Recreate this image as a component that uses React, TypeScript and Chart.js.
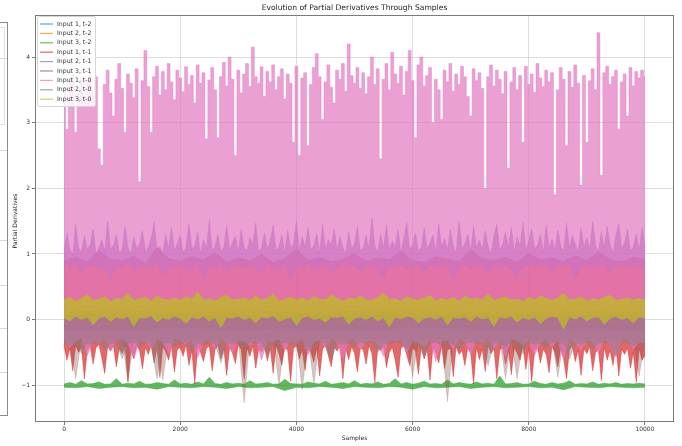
import { useEffect, useRef } from "react";
import { Chart, registerables } from "chart.js";

Chart.register(...registerables);

const FONT = '"DejaVu Sans", "Liberation Sans", sans-serif';
const SAMPLE_COUNT = 10000;

const xTicks = [0, 2000, 4000, 6000, 8000, 10000];
const yTicks = [-1, 0, 1, 2, 3, 4];

const seriesLabels = [
  "Input 1, t-2",
  "Input 2, t-2",
  "Input 3, t-2",
  "Input 1, t-1",
  "Input 2, t-1",
  "Input 3, t-1",
  "Input 1, t-0",
  "Input 2, t-0",
  "Input 3, t-0",
];

const seriesColors = [
  "#1f77b4",
  "#ff7f0e",
  "#2ca02c",
  "#d62728",
  "#9467bd",
  "#8c564b",
  "#e377c2",
  "#7f7f7f",
  "#bcbd22",
];

// opacity of each trace's band
const seriesAlpha = [0.7, 0.7, 0.75, 0.7, 0.7, 0.35, 0.7, 0.45, 0.75];

// Upper / lower envelopes of each derivative trace, sampled evenly across 0..10000.
const in1t2High = [0.12, 0.15, 0.1, 0.14, 0.11, 0.13, 0.16, 0.1, 0.12, 0.14, 0.11];
const in1t2Low = [-0.14, -0.16, -0.12, -0.15, -0.13, -0.17, -0.12, -0.14, -0.16, -0.13, -0.15];

const in2t2High = [0.22, 0.2, 0.24, 0.19, 0.23, 0.21, 0.25, 0.2, 0.22, 0.24, 0.21];
const in2t2Low = [-0.08, -0.1, -0.07, -0.11, -0.09, -0.06, -0.1, -0.08, -0.12, -0.07, -0.09];

const in3t2High = [
  -0.98, -0.96, -0.985, -0.93, -0.98, -0.975, -0.95, -0.985, -0.98, -0.9,
  -0.985, -0.97, -0.98, -0.94, -0.985, -0.98, -0.96, -0.975, -0.985, -0.92,
  -0.98, -0.97, -0.985, -0.95, -0.98, -0.88, -0.975, -0.985, -0.96, -0.98,
  -0.97, -0.985, -0.93, -0.98, -0.975, -0.96, -0.985, -0.98, -0.91, -0.975,
  -0.98, -0.985, -0.95, -0.97, -0.98, -0.94, -0.985, -0.975, -0.96, -0.98,
  -0.93, -0.985, -0.97, -0.98, -0.95, -0.985, -0.975, -0.9, -0.98, -0.96,
  -0.985, -0.97, -0.94, -0.98, -0.975, -0.985, -0.92, -0.98, -0.96, -0.975,
  -0.985, -0.95, -0.98, -0.97, -0.985, -0.86, -0.98, -0.975, -0.96, -0.985,
  -0.98, -0.94, -0.975, -0.985, -0.96, -0.98, -0.97, -0.93, -0.985, -0.975,
  -0.98, -0.95, -0.985, -0.97, -0.98, -0.96, -0.985, -0.975, -0.98, -0.97,
  -0.98,
];
const in3t2Low = [
  -1.03, -1.04, -1.02, -1.05, -1.03, -1.02, -1.04, -1.03, -1.06, -1.02,
  -1.03, -1.04, -1.02, -1.03, -1.05, -1.02, -1.04, -1.03, -1.02, -1.08,
  -1.03, -1.04, -1.02, -1.03, -1.05, -1.02, -1.03, -1.04, -1.02, -1.03,
  -1.06, -1.02, -1.04, -1.03, -1.02, -1.05, -1.03, -1.02, -1.04, -1.03,
  -1.02, -1.04, -1.03, -1.07, -1.02, -1.03, -1.04, -1.02, -1.03, -1.04,
  -1.03,
];

const in1t1High = [
  0.9, 0.95, 0.88, 1.05, 0.92, 0.9, 0.97, 0.86, 1.1, 0.93,
  0.89, 0.96, 0.91, 1.02, 0.88, 0.94, 0.9, 0.99, 0.87, 0.93,
  1.08, 0.9, 0.95, 0.88, 0.92, 1.0, 0.89, 0.94, 0.91, 1.04,
  0.9, 0.87, 0.96, 0.92, 0.89, 1.06, 0.93, 0.9, 0.95, 0.88,
  1.01, 0.91, 0.94, 0.89, 0.97, 0.9, 1.03, 0.92, 0.88, 0.95,
  0.91,
];
const in1t1Low = [
  -0.4, -0.62, -0.44, -0.78, -0.39, -0.5, -0.42, -0.9, -0.47, -0.4,
  -0.68, -0.43, -0.38, -0.58, -0.82, -0.41, -0.48, -0.4, -0.72, -0.44,
  -0.52, -0.39, -0.95, -0.43, -0.6, -0.4, -0.47, -0.75, -0.42, -0.53,
  -0.39, -0.66, -0.44, -0.88, -0.41, -0.49, -0.62, -0.4, -0.8, -0.45,
  -0.43, -0.56, -0.38, -0.7, -0.47, -0.98, -0.41, -0.5, -0.64, -0.44,
  -0.4, -0.78, -0.46, -0.39, -0.6, -0.44, -0.85, -0.42, -0.51, -0.67,
  -0.38, -0.46, -0.9, -0.43, -0.56, -0.4, -0.74, -0.45, -0.5, -0.41,
  -0.63, -0.44, -0.82, -0.39, -0.52, -0.69, -0.42, -0.47, -0.94, -0.44,
  -0.4, -0.6, -0.46, -0.77, -0.41, -0.5, -0.65, -0.43, -0.86, -0.45,
  -0.39, -0.55, -0.72, -0.42, -0.48, -0.4, -0.9, -0.44, -0.61, -0.41,
  -0.51, -0.8, -0.43, -0.46, -0.68, -0.39, -0.52, -0.96, -0.44, -0.47,
  -0.41, -0.73, -0.5, -0.42, -0.62, -0.88, -0.44, -0.4, -0.54, -0.7,
  -0.43, -0.48, -0.83, -0.41, -0.6, -0.45, -0.92, -0.42, -0.51, -0.66,
  -0.39, -0.75, -0.46, -0.44, -0.87, -0.41, -0.53, -0.47, -0.7, -0.43,
  -0.5, -0.98, -0.42, -0.61, -0.45, -0.79, -0.4, -0.52, -0.44, -0.9,
  -0.47, -0.41, -0.68, -0.46, -0.84, -0.43, -0.51, -0.62, -0.4, -0.76,
  -0.44, -0.95, -0.48, -0.42, -0.66, -0.45, -0.53, -0.81, -0.41, -0.5,
  -0.72, -0.43, -0.6, -0.9, -0.46, -0.4, -0.64, -0.47, -0.85, -0.44,
  -0.52, -0.41, -0.78, -0.5, -0.44, -0.93, -0.42, -0.62, -0.47, -0.7,
  -0.4, -0.86, -0.45, -0.53, -0.43, -0.74, -0.5, -0.96, -0.44, -0.62,
  -0.55,
];

const in2t1High = [
  1.05, 1.32, 1.08, 0.98, 1.45, 1.1, 1.02, 1.28, 1.06, 1.14,
  1.38, 1.0, 1.1, 1.22, 1.04, 1.5, 1.08, 1.12, 1.3, 1.02,
  1.06, 1.42, 1.1, 1.0, 1.26, 1.08, 1.15, 1.35, 1.04, 1.1,
  1.24, 1.48, 1.06, 1.12, 1.0, 1.3, 1.09, 1.4, 1.05, 1.16,
  1.28, 1.02, 1.1, 1.46, 1.07, 1.13, 1.33, 1.0, 1.22, 1.08,
  1.52, 1.05, 1.12, 1.3, 1.04, 1.1, 1.43, 1.06, 1.18, 1.27,
  1.02, 1.38, 1.1, 1.05, 1.25, 1.14, 1.47, 1.03, 1.1, 1.32,
  1.07, 1.2, 1.44, 1.05, 1.12, 1.29, 1.0, 1.36, 1.09, 1.15,
  1.5, 1.04, 1.26, 1.1, 1.4, 1.06, 1.13, 1.31, 1.02, 1.45,
  1.08, 1.22, 1.12, 1.38, 1.05, 1.27, 1.1, 1.0, 1.34, 1.08,
  1.16, 1.42, 1.04, 1.1, 1.28, 1.07, 1.55, 1.12, 1.03, 1.3,
  1.09, 1.44, 1.06, 1.2, 1.11, 1.36, 1.02, 1.25, 1.48, 1.08,
  1.13, 1.32, 1.05, 1.1, 1.4, 1.07, 1.18, 1.29, 1.03, 1.46,
  1.1, 1.24, 1.06, 1.37, 1.12, 1.02, 1.5, 1.08, 1.15, 1.3,
  1.04, 1.43, 1.1, 1.21, 1.07, 1.35, 1.12, 1.0, 1.27, 1.45,
  1.06, 1.14, 1.33, 1.09, 1.41, 1.03, 1.26, 1.11, 1.48, 1.05,
  1.2, 1.38, 1.08, 1.13, 1.3, 1.02, 1.44, 1.1, 1.23, 1.06,
  1.36, 1.12, 1.04, 1.47, 1.09, 1.28, 1.15, 1.03, 1.4, 1.1,
  1.25, 1.07, 1.5, 1.12, 1.05, 1.33, 1.09, 1.42, 1.14, 1.02,
  1.29, 1.46, 1.08, 1.18, 1.37, 1.05, 1.11, 1.31, 1.06, 1.4,
  1.1,
];
const in2t1Low = [
  0.82, 0.78, 0.85, 0.7, 0.8, 0.84, 0.76, 0.81, 0.6, 0.83,
  0.79, 0.86, 0.74, 0.8, 0.82, 0.77, 0.85, 0.68, 0.81, 0.79,
  0.84, 0.75, 0.8, 0.83, 0.62, 0.82, 0.78, 0.86, 0.73, 0.8,
  0.81, 0.77, 0.84, 0.79, 0.7, 0.83, 0.8, 0.76, 0.85, 0.58,
  0.82, 0.79, 0.84, 0.75, 0.81, 0.83, 0.69, 0.8, 0.86, 0.78,
  0.82, 0.74, 0.8, 0.84, 0.77, 0.64, 0.83, 0.79, 0.85, 0.76,
  0.81, 0.8, 0.72, 0.84, 0.78, 0.82, 0.86, 0.6, 0.8, 0.83,
  0.77, 0.85, 0.79, 0.73, 0.82, 0.8, 0.84, 0.76, 0.66, 0.81,
  0.83, 0.78, 0.85, 0.8, 0.74, 0.82, 0.79, 0.84, 0.62, 0.8,
  0.83, 0.77, 0.81, 0.85, 0.71, 0.8, 0.82, 0.78, 0.84, 0.79,
  0.81,
];

const in3t1High = [
  0.0, -0.02, 0.03, 0.01, -0.01, 0.02, 0.0, 0.03, -0.02, 0.01, 0.02,
  0.0, -0.01, 0.03, 0.01, 0.0, 0.02, -0.02, 0.01, 0.03, 0.0,
];
const in3t1Low = [
  -0.3, -0.32, -0.9, -0.29, -0.31, -0.3, -0.33, -0.28, -0.3, -0.31,
  -0.29, -0.95, -0.3, -0.32, -0.28, -0.31, -0.3, -0.92, -0.29, -0.31,
  -0.3, -0.33, -0.28, -0.3, -0.31, -0.29, -0.32, -0.3, -0.28, -0.31,
  -0.3, -1.27, -0.29, -0.31, -0.3, -0.32, -0.28, -1.0, -0.3, -0.31,
  -0.29, -1.07, -0.3, -0.98, -0.31, -0.28, -0.3, -0.32, -0.29, -0.31,
  -0.3, -0.28, -0.31, -0.3, -0.33, -0.29, -0.3, -0.31, -0.28, -0.3,
  -0.88, -0.31, -0.29, -0.3, -0.32, -0.28, -1.25, -0.3, -0.31, -0.29,
  -0.3, -0.32, -0.28, -0.31, -0.3, -0.29, -0.9, -0.31, -0.9, -0.3,
  -0.28, -0.31, -0.3, -0.32, -0.29, -0.88, -0.3, -0.31, -0.28, -0.3,
  -0.32, -0.29, -0.31, -0.3, -0.28, -0.31, -0.3, -0.29, -0.32, -0.86,
  -0.3,
];

const in1t0High = [
  3.55, 2.9, 3.6, 3.72, 2.85, 3.5, 3.68, 3.4, 3.62, 3.75,
  3.48, 3.7, 2.6, 2.35, 3.58, 3.8, 3.45, 3.1, 3.66, 3.9,
  3.52, 2.85, 3.74, 3.6, 3.38, 3.82, 2.1, 3.64, 4.1, 3.55,
  2.85, 3.7, 3.86, 3.42, 3.78, 3.5, 3.9, 3.62, 3.35, 3.8,
  3.68, 3.47, 3.85, 3.58, 3.72, 3.3, 3.88, 3.6, 3.76, 2.75,
  3.65, 3.84, 3.5, 2.77, 3.7, 3.92, 3.56, 4.0, 3.66, 2.5,
  3.8, 3.45, 3.74, 3.9, 3.55, 4.15, 3.7, 3.6, 3.85, 3.4,
  3.78, 3.62, 3.88, 3.5, 3.7, 3.82, 3.36, 3.74, 3.6, 2.7,
  3.86, 2.5, 3.68, 3.76, 2.65, 3.58, 3.84, 4.05, 3.7, 3.05,
  3.62, 3.88, 3.54, 3.3, 3.8, 3.66, 3.9, 3.48, 4.2, 3.72,
  3.6, 3.84, 3.52, 3.76, 3.44, 3.7, 4.0, 3.58, 3.82, 2.45,
  3.66, 3.9, 3.5, 4.07, 3.74, 3.6, 3.86, 3.42, 3.78, 4.1,
  3.64, 2.77, 3.88, 4.0, 3.56, 3.72, 3.84, 3.0, 3.66, 3.5,
  3.05, 3.8, 3.62, 3.9, 3.48, 3.74, 3.58, 3.86, 3.7, 3.4,
  3.1, 3.82, 3.64, 3.76, 3.52, 2.0, 3.7, 3.88, 3.56, 3.8,
  3.66, 3.44, 3.78, 2.3, 3.62, 3.84, 3.5, 3.72, 2.7, 3.86,
  3.58, 3.74, 3.46, 3.9, 3.68, 3.55, 3.8, 3.62, 3.76, 1.9,
  3.5, 3.84, 3.66, 2.65, 3.78, 3.54, 3.88, 3.6, 2.05, 3.72,
  2.7, 3.64, 3.82, 3.5, 4.37, 2.2, 3.76, 3.86, 3.58, 3.7,
  3.8, 2.9, 3.62, 3.74, 3.1, 3.84, 3.56, 3.78, 3.68, 3.8,
  3.7,
];
const in1t0Low = [
  -0.3, -0.42, -0.33, -0.28, -0.55, -0.31, -0.35, -0.3, -0.48, -0.32,
  -0.29, -0.36, -0.6, -0.31, -0.33, -0.44, -0.3, -0.34, -0.52, -0.29,
  -0.32, -0.38, -0.3, -0.58, -0.33, -0.31, -0.45, -0.29, -0.35, -0.5,
  -0.31, -0.33, -0.4, -0.3, -0.62, -0.32, -0.34, -0.29, -0.47, -0.31,
  -0.36, -0.3, -0.54, -0.33, -0.31, -0.43, -0.29, -0.35, -0.6, -0.32,
  -0.3, -0.46, -0.33, -0.31, -0.37, -0.56, -0.3, -0.34, -0.29, -0.5,
  -0.32, -0.35, -0.41, -0.3, -0.64, -0.33, -0.31, -0.46, -0.29, -0.34,
  -0.53, -0.31, -0.36, -0.3, -0.44, -0.33, -0.58, -0.29, -0.32, -0.39,
  -0.31, -0.55, -0.34, -0.3, -0.42, -0.32, -0.6, -0.29, -0.35, -0.47,
  -0.31, -0.33, -0.52, -0.3, -0.38, -0.57, -0.32, -0.29, -0.45, -0.34,
  -0.36,
];

const in2t0High = [
  0.05, 0.08, 0.04, 0.06, 0.09, 0.05, 0.07, 0.04, 0.08, 0.06, 0.05,
  0.09, 0.04, 0.07, 0.06, 0.05, 0.08, 0.04, 0.06, 0.07, 0.05,
];
const in2t0Low = [
  -0.35, -0.4, -0.33, -0.52, -0.36, -0.38, -0.34, -0.45, -0.37, -0.35,
  -0.6, -0.36, -0.34, -0.41, -0.35, -0.38, -0.9, -0.36, -0.34, -0.43,
  -0.37, -0.35, -0.5, -0.36, -0.39, -0.34, -0.37, -0.66, -0.35, -0.38,
  -0.36, -0.44, -0.34, -0.37, -0.35, -0.55, -0.36, -0.38, -0.34, -0.4,
  -0.36, -0.35, -0.48, -0.37, -0.34, -0.36, -0.62, -0.35, -0.38, -0.36,
  -0.42, -0.34, -0.37, -0.35, -0.5, -0.36, -0.38, -0.34, -0.36, -0.45,
  -0.35, -0.37, -0.58, -0.36, -0.34, -0.39, -0.35, -0.37, -0.47, -0.36,
  -0.34, -0.38, -0.36, -0.7, -0.35, -0.37, -0.41, -0.34, -0.36, -0.52,
  -0.35, -0.38, -0.36, -0.44, -0.34, -0.37, -0.35, -0.6, -0.36, -0.38,
  -0.34, -0.46, -0.36, -0.35, -0.37, -0.55, -0.34, -0.36, -0.4, -0.35,
  -0.37,
];

const in3t0High = [
  0.3, 0.34, 0.28, 0.32, 0.38, 0.29, 0.31, 0.35, 0.27, 0.33,
  0.3, 0.4, 0.29, 0.32, 0.34, 0.28, 0.36, 0.31, 0.3, 0.33,
  0.29, 0.35, 0.31, 0.42, 0.3, 0.32, 0.28, 0.34, 0.37, 0.3,
  0.31, 0.33, 0.29, 0.36, 0.3, 0.32, 0.39, 0.28, 0.31, 0.34,
  0.3, 0.33, 0.29, 0.35, 0.31, 0.3, 0.38, 0.32, 0.28, 0.33,
  0.31, 0.36, 0.3, 0.29, 0.34, 0.41, 0.3, 0.32, 0.28, 0.35,
  0.31, 0.3, 0.33, 0.37, 0.29, 0.32, 0.3, 0.34, 0.28, 0.36,
  0.31, 0.33, 0.3, 0.39, 0.29, 0.32, 0.35, 0.3, 0.31, 0.28,
  0.34, 0.3, 0.36, 0.32, 0.29, 0.33, 0.4, 0.3, 0.31, 0.35,
  0.28, 0.32, 0.3, 0.34, 0.37, 0.29, 0.31, 0.33, 0.3, 0.32,
  0.3,
];
const in3t0Low = [
  0.03, -0.02, 0.05, 0.0, 0.04, -0.08, 0.02, 0.05, -0.03, 0.04,
  0.01, 0.05, -0.1, 0.03, 0.02, 0.06, -0.04, 0.03, 0.0, 0.05,
  0.02, -0.06, 0.04, 0.01, 0.05, -0.02, 0.03, -0.12, 0.04, 0.02,
  0.05, 0.0, 0.03, -0.05, 0.04, 0.02, 0.06, -0.03, 0.01, 0.04,
  -0.09, 0.03, 0.05, 0.0, 0.02, -0.04, 0.04, 0.03, 0.05, -0.07,
  0.02, 0.04, 0.0, 0.05, -0.02, 0.03, -0.11, 0.04, 0.01, 0.05,
  0.03, -0.05, 0.02, 0.04, 0.0, 0.05, -0.08, 0.03, 0.02, 0.04,
  -0.03, 0.05, 0.01, 0.03, -0.1, 0.04, 0.02, 0.05, -0.04, 0.03,
  0.0, 0.04, -0.06, 0.02, 0.05, 0.03, -0.15, 0.04, 0.01, 0.05,
  -0.02, 0.03, 0.04, -0.07, 0.02, 0.05, 0.0, 0.03, -0.05, 0.04,
  0.02,
];

const highs = [in1t2High, in2t2High, in3t2High, in1t1High, in2t1High, in3t1High, in1t0High, in2t0High, in3t0High];
const lows = [in1t2Low, in2t2Low, in3t2Low, in1t1Low, in2t1Low, in3t1Low, in1t0Low, in2t0Low, in3t0Low];

// the tall Input 1, t-0 trace reads as a comb of thin spikes, so its top edge is stepped
const steppedTop = [false, false, false, false, false, false, true, false, false];

function withAlpha(hex: string, a: number) {
  const n = parseInt(hex.slice(1), 16);
  return `rgba(${(n >> 16) & 255}, ${(n >> 8) & 255}, ${n & 255}, ${a})`;
}

function samplePoints(values: number[]) {
  const step = SAMPLE_COUNT / (values.length - 1);
  return values.map((y, i) => ({ x: i * step, y }));
}

function formatTick(v: number) {
  return v < 0 ? "\u2212" + Math.abs(v) : String(v);
}

// Axes frame around the plotting area.
const framePlugin = {
  id: "axesFrame",
  afterDatasetsDraw(chart: any) {
    const { ctx, chartArea: a } = chart;
    ctx.save();
    ctx.strokeStyle = "#7a7a7a";
    ctx.lineWidth = 1;
    ctx.strokeRect(Math.round(a.left) + 0.5, Math.round(a.top) + 0.5, Math.round(a.right - a.left) - 1, Math.round(a.bottom - a.top) - 1);
    ctx.restore();
  },
};

// Title, axis titles and the in-plot legend.
const annotationPlugin = {
  id: "annotations",
  afterDraw(chart: any) {
    const { ctx, chartArea: a } = chart;
    const cx = (a.left + a.right) / 2;
    ctx.save();
    ctx.fillStyle = "#222";
    ctx.textAlign = "center";
    ctx.textBaseline = "middle";
    ctx.font = `7.6px ${FONT}`;
    ctx.fillText("Evolution of Partial Derivatives Through Samples", cx, 8);
    ctx.font = `6px ${FONT}`;
    ctx.fillText("Samples", cx, 438);
    ctx.translate(15, 221);
    ctx.rotate(-Math.PI / 2);
    ctx.fillText("Partial Derivatives", 0, 0);
    ctx.restore();

    // legend box
    const bx = 37.5, by = 16.5, bw = 58, bh = 90;
    ctx.save();
    ctx.fillStyle = "rgba(255,255,255,0.82)";
    ctx.strokeStyle = "#d6d6d6";
    ctx.lineWidth = 1;
    ctx.beginPath();
    ctx.roundRect(bx, by, bw, bh, 2);
    ctx.fill();
    ctx.stroke();
    ctx.font = `6.2px ${FONT}`;
    ctx.textAlign = "left";
    ctx.textBaseline = "middle";
    seriesLabels.forEach((label, i) => {
      const y = 24 + i * 9.4;
      ctx.strokeStyle = withAlpha(seriesColors[i], 0.7);
      ctx.lineWidth = 1.2;
      ctx.beginPath();
      ctx.moveTo(40, y);
      ctx.lineTo(53, y);
      ctx.stroke();
      ctx.fillStyle = "#333";
      ctx.fillText(label, 57, y);
    });
    ctx.restore();
  },
};

export default function App() {
  const ref = useRef<HTMLCanvasElement | null>(null);

  useEffect(() => {
    if (!ref.current) return;
    const datasets: any[] = [];
    seriesLabels.forEach((label, i) => {
      const color = withAlpha(seriesColors[i], seriesAlpha[i]);
      const common = {
        borderColor: color,
        borderWidth: 0.6,
        pointRadius: 0,
        tension: 0,
        order: seriesLabels.length - i,
      };
      datasets.push({
        ...common,
        label,
        data: samplePoints(highs[i]),
        backgroundColor: color,
        fill: "+1",
        stepped: steppedTop[i] ? "middle" : false,
      });
      datasets.push({ ...common, label: label + " (low)", data: samplePoints(lows[i]), fill: false });
    });

    const chart = new Chart(ref.current, {
      type: "line",
      data: { datasets },
      options: {
        animation: false,
        responsive: false,
        devicePixelRatio: 1,
        events: [],
        layout: { padding: { top: 15, right: 8, left: 0, bottom: 0 } },
        plugins: { legend: { display: false }, tooltip: { enabled: false }, title: { display: false } },
        scales: {
          x: {
            type: "linear",
            min: -500,
            max: 10500,
            afterBuildTicks: (scale: any) => {
              scale.ticks = xTicks.map((v) => ({ value: v }));
            },
            afterFit: (scale: any) => {
              scale.height = 24;
            },
            ticks: {
              autoSkip: false,
              maxRotation: 0,
              padding: 1,
              color: "#333",
              font: { family: FONT, size: 6 },
              callback: (v: any) => formatTick(Number(v)),
            },
            grid: { color: "#d4d4d4", lineWidth: 0.8, tickLength: 3, tickColor: "#555", drawTicks: true },
            border: { display: false },
          },
          y: {
            type: "linear",
            min: -1.56,
            max: 4.64,
            afterBuildTicks: (scale: any) => {
              scale.ticks = yTicks.map((v) => ({ value: v }));
            },
            afterFit: (scale: any) => {
              scale.width = 35;
            },
            ticks: {
              autoSkip: false,
              padding: 2,
              color: "#333",
              font: { family: FONT, size: 6 },
              callback: (v: any) => formatTick(Number(v)),
            },
            grid: { color: "#d4d4d4", lineWidth: 0.8, tickLength: 3, tickColor: "#555", drawTicks: true },
            border: { display: false },
          },
        },
      },
      plugins: [framePlugin, annotationPlugin],
    });
    return () => chart.destroy();
  }, []);

  const sideLines = [58, 150, 240, 285, 328, 372];

  return (
    <div style={{ position: "absolute", left: 0, top: 0, width: 682, height: 446, background: "#fff", overflow: "hidden" }}>
      {/* edge of the neighbouring panel */}
      <div style={{ position: "absolute", left: -2, top: 22, width: 8, height: 392, border: "1px solid #8a8a8a" }} />
      <div style={{ position: "absolute", left: -2, top: 27, width: 5, height: 96, border: "1px solid #e2e2e2" }} />
      {sideLines.map((y) => (
        <div key={y} style={{ position: "absolute", left: 0, top: y, width: 7, height: 1, background: "#d8d8d8" }} />
      ))}
      <canvas ref={ref} width={682} height={446} style={{ position: "absolute", left: 0, top: 0, display: "block" }} />
    </div>
  );
}
